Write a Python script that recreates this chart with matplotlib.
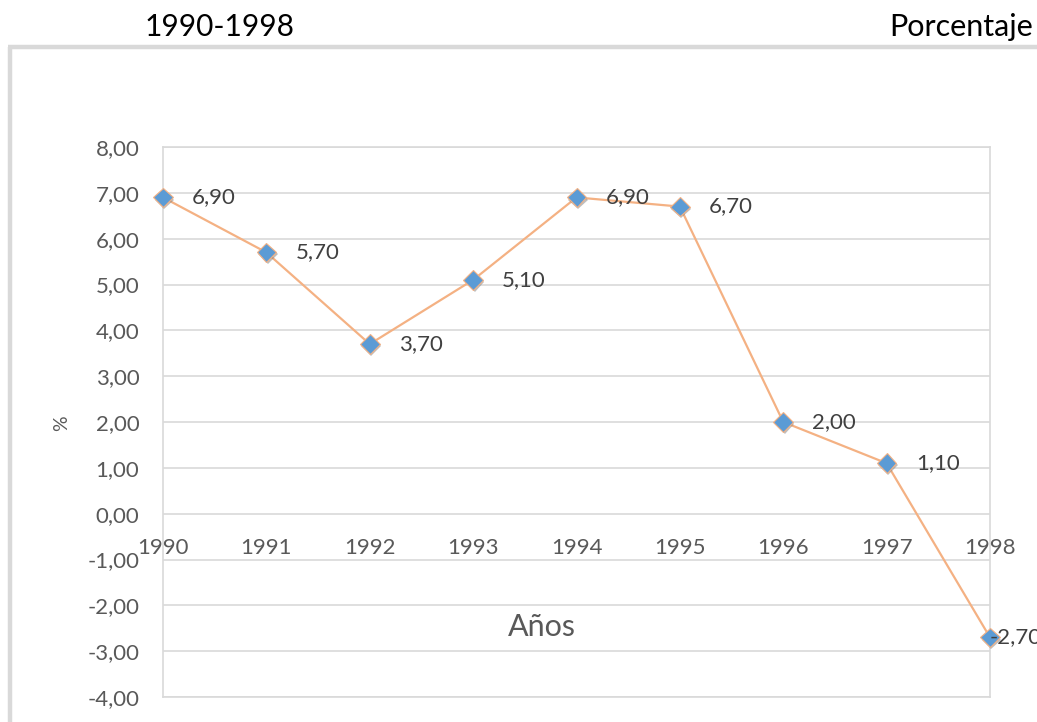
import matplotlib
matplotlib.use("Agg")
import matplotlib.pyplot as plt
from matplotlib.lines import Line2D
import matplotlib.patheffects as pe

plt.rcParams['font.family'] = ['Lato', 'DejaVu Sans']

years = ["1990", "1991", "1992", "1993", "1994", "1995", "1996", "1997", "1998"]
values = [6.90, 5.70, 3.70, 5.10, 6.90, 6.70, 2.00, 1.10, -2.70]
yticks = [-4, -3, -2, -1, 0, 1, 2, 3, 4, 5, 6, 7, 8]
title_left = "1990-1998"
title_right = "Porcentaje"
xlabel = "Años"
ylabel = "%"

W, H = 1037, 722
fig = plt.figure(figsize=(W / 100, H / 100), dpi=100)

def fx(px):
    return px / W

def fy(py):
    return 1 - py / H

# outer frame (left + top borders)
fig.add_artist(Line2D([fx(10), fx(10)], [fy(47), 0], color="#d9d9d9", lw=3.2,
                      transform=fig.transFigure, solid_capstyle="butt"))
fig.add_artist(Line2D([fx(8), 1], [fy(47), fy(47)], color="#d9d9d9", lw=3.2,
                      transform=fig.transFigure, solid_capstyle="butt"))

ax = fig.add_axes([fx(163), fy(697), fx(990) - fx(163), fy(147) - fy(697)])
x = list(range(len(years)))
ax.set_xlim(0, len(years) - 1)
ax.set_ylim(min(yticks), max(yticks))

ax.set_yticks(yticks)
ax.set_yticklabels([f"{v:.2f}".replace(".", ",") for v in yticks])
ax.set_xticks([])
ax.tick_params(axis="y", length=0, pad=17, labelsize=16, labelcolor="#595959")
for s in ax.spines.values():
    s.set_color("#d9d9d9")
    s.set_linewidth(1.2)
ax.grid(axis="y", color="#d9d9d9", lw=1.2)
ax.set_axisbelow(True)

ax.plot(x, values, color="#F4B183", lw=1.6, zorder=3, clip_on=False)
ax.plot(x, values, linestyle="none", marker="D", markersize=10,
        markerfacecolor="#5B9BD5", markeredgecolor="#F4B183", markeredgewidth=0.8,
        zorder=4, clip_on=False,
        path_effects=[pe.SimplePatchShadow(offset=(1, -1.5), shadow_rgbFace="#7f7f7f", alpha=0.5),
                      pe.Normal()])

for i, v in enumerate(values):
    dx = 0 if i == len(values) - 1 else 21
    ax.annotate(f"{v:.2f}".replace(".", ","), (i, v), xytext=(dx, 0),
                textcoords="offset points", ha="left", va="center",
                fontsize=16, color="#404040", zorder=5, annotation_clip=False)

for i, yr in enumerate(years):
    ax.annotate(yr, (i, 0), xytext=(0, -25), textcoords="offset points",
                ha="center", va="center", fontsize=16, color="#595959",
                annotation_clip=False)

fig.text(fx(542), fy(627), xlabel, ha="center", va="center", fontsize=22, color="#595959")
fig.text(fx(62), fy(423), ylabel, ha="center", va="center", fontsize=14,
         color="#595959", rotation=90)
fig.text(fx(220), fy(27), title_left, ha="center", va="center", fontsize=21.5, color="black")
fig.text(fx(1033), fy(27), title_right, ha="right", va="center", fontsize=22, color="black")

fig.savefig("out.png", dpi=100)
